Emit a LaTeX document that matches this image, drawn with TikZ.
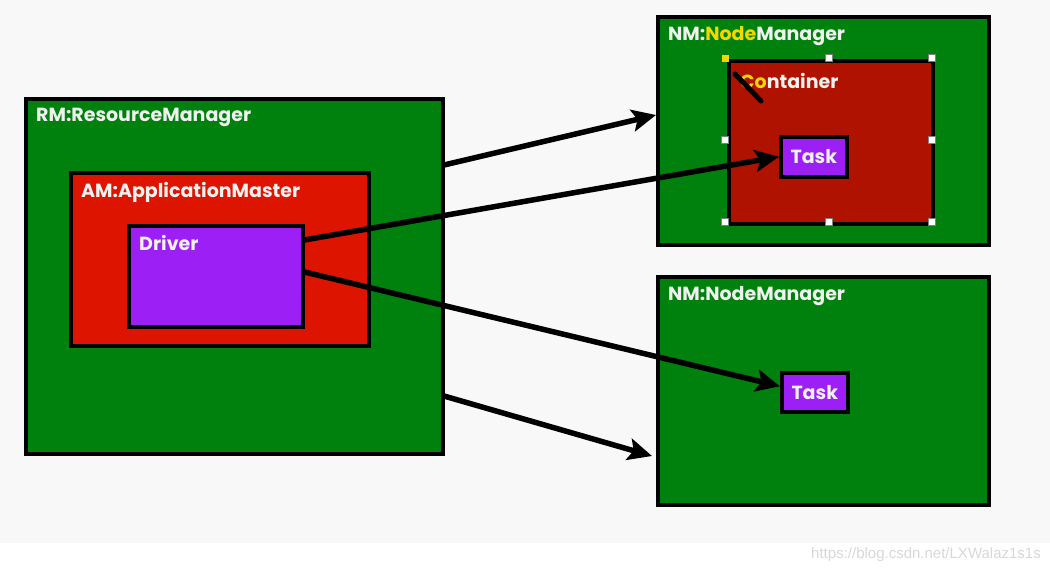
\documentclass[tikz,border=0pt]{standalone}
\usepackage{fontspec}
\setmainfont{Poppins}
\usetikzlibrary{arrows.meta}
\definecolor{bggray}{RGB}{248,248,248}
\definecolor{boxgreen}{RGB}{0,128,12}
\definecolor{amred}{RGB}{221,20,0}
\definecolor{contred}{RGB}{176,18,0}
\definecolor{drvpurple}{RGB}{156,32,246}
\definecolor{txtwhite}{RGB}{240,242,240}
\definecolor{hiyellow}{RGB}{245,215,0}
\definecolor{wmgray}{RGB}{215,215,215}
\tikzset{
  pbox/.style={draw=black, line width=3.5pt, anchor=north west, inner sep=0pt},
  lbl/.style={anchor=west, text=txtwhite, font=\bfseries\fontsize{19}{21}\selectfont, inner sep=0pt},
  handle/.style={draw=black!50, fill=white, line width=0.6pt, minimum size=7pt, inner sep=0pt},
  arr/.style={line width=5.5pt, -{Stealth[length=24pt,width=22pt,inset=5pt]}},
}
\begin{document}
\begin{tikzpicture}[x=1pt,y=-1pt]
\useasboundingbox (0,0) rectangle (1050,573);
\fill[bggray] (0,0) rectangle (1050,543);
% Resource manager side
\node[pbox, fill=boxgreen, minimum width=417pt, minimum height=355pt] (rm) at (24,97) {};
\node[lbl] (rmlbl) at (36,117) {RM:ResourceManager};
\node[pbox, fill=amred, minimum width=298pt, minimum height=173pt] (am) at (69,171) {};
\node[lbl] (amlbl) at (81,192) {AM:ApplicationMaster};
\node[pbox, fill=drvpurple, minimum width=174pt, minimum height=101pt] (drv) at (127,224) {};
\node[lbl] (drvlbl) at (139,243) {Driver};
% Node manager 1
\node[pbox, fill=boxgreen, minimum width=331pt, minimum height=228pt] (nm1) at (656,15) {};
\node[lbl] (nm1lbl) at (668,36) {NM:\textcolor{hiyellow}{Node}Manager};
\node[pbox, fill=contred, minimum width=204pt, minimum height=163pt] (cont) at (727,59) {};
\node[lbl] (contlbl) at (740,81) {\textcolor{hiyellow}{Co}ntainer};
\node[pbox, fill=drvpurple, minimum width=66pt, minimum height=40pt] (task1) at (779,135) {};
\node[lbl, anchor=center] (task1lbl) at (task1.center) {Task};
% selection handles
\foreach \hx/\hy [count=\i] in {829/58,932/58,725/140,932/140,725/222,829/222,932/222}
  \node[handle] (h\i) at (\hx,\hy) {};
\node[handle, fill=hiyellow, draw=none] (h0) at (725,58) {};
% pen cursor stroke
\coordinate (penA) at (735,74);
\coordinate (penB) at (761,101);
\draw[line width=5pt, line cap=round] (penA) -- (penB);
% Node manager 2
\node[pbox, fill=boxgreen, minimum width=331pt, minimum height=228pt] (nm2) at (656,275) {};
\node[lbl] (nm2lbl) at (668,296) {NM:NodeManager};
\node[pbox, fill=drvpurple, minimum width=66pt, minimum height=39pt] (task2) at (780,371) {};
\node[lbl, anchor=center] (task2lbl) at (task2.center) {Task};
% arrows
\coordinate (a1s) at (444,165);
\coordinate (a1e) at (656,115);
\coordinate (a4s) at (444,396);
\coordinate (a4e) at (652,456);
\draw[arr] (a1s) -- (a1e);
\draw[arr] (drv.north east) ++(0,16) -- (task1.west);
\draw[arr] (drv.north east) ++(0,48) -- ([yshift=6pt]task2.west);
\draw[arr] (a4s) -- (a4e);
% watermark
\node[anchor=east, text=wmgray, font=\fontspec{Liberation Sans}\fontsize{15}{17}\selectfont, inner sep=0pt] (wm) at (1041,555) {https://blog.csdn.net/LXWalaz1s1s};
\end{tikzpicture}
\end{document}
